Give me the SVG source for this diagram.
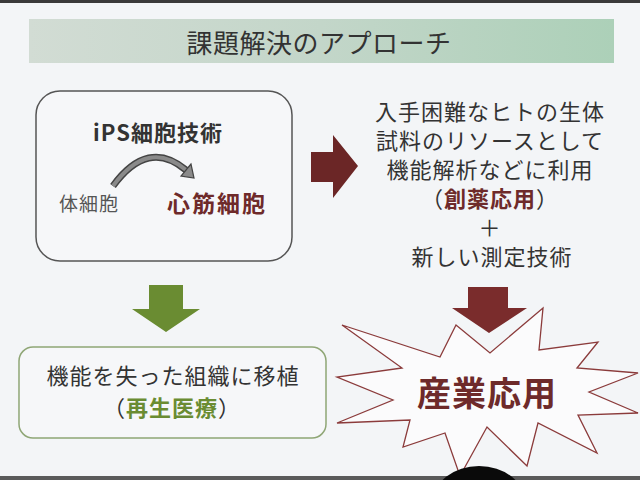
<svg xmlns="http://www.w3.org/2000/svg" width="640" height="480" viewBox="0 0 640 480">
<defs>
<linearGradient id="banner" x1="0" y1="0" x2="1" y2="0">
<stop offset="0" stop-color="#d2dcd4"/>
<stop offset="0.5" stop-color="#c3d6c9"/>
<stop offset="1" stop-color="#acd0b8"/>
</linearGradient>
<style>
text{font-family:"Noto Sans CJK JP","Noto Sans CJK SC",sans-serif;}
.t{fill:#333;font-size:22px;letter-spacing:1px;text-anchor:middle;}
.red{fill:#6e2a2a;font-weight:bold;}
.grn{fill:#6a8c32;font-weight:bold;}
</style>
</defs>
<rect x="0" y="0" width="640" height="480" fill="#f3f5f7"/>
<rect x="0" y="0" width="640" height="3" fill="#3a3a3a"/>
<rect x="0" y="476" width="640" height="4" fill="#5a5a5a"/>

<g id="title">
<rect x="29" y="19" width="585" height="44" fill="url(#banner)"/>
<text x="319" y="53" font-size="26" fill="#333" text-anchor="middle" letter-spacing="0.5">課題解決のアプローチ</text>
</g>

<g id="ips-box">
<rect x="36" y="91" width="256" height="170" rx="24" fill="#f6f7f9" stroke="#555" stroke-width="1.5"/>
<text x="158" y="141" font-size="22" font-weight="bold" fill="#333" text-anchor="middle" letter-spacing="1">iPS細胞技術</text>
<text x="89" y="211" font-size="19" fill="#555" text-anchor="middle" letter-spacing="1">体細胞</text>
<text x="217" y="212" font-size="23" text-anchor="middle" letter-spacing="2" class="red">心筋細胞</text>
<path d="M113,186 Q148,138 186,170" fill="none" stroke="#444" stroke-width="7"/>
<path d="M113,186 Q148,138 186,170" fill="none" stroke="#8a8a8a" stroke-width="4"/>
<polygon points="191,164 181,176 194,178" fill="#8a8a8a" stroke="#444" stroke-width="1.2"/>
</g>

<g id="resource-text">
<text class="t" x="490" y="120">入手困難なヒトの生体</text>
<text class="t" x="490" y="149">試料のリソースとして</text>
<text class="t" x="490" y="178">機能解析などに利用</text>
<text class="t" x="490" y="207">（<tspan class="red">創薬応用</tspan>）</text>
<text class="t" x="490" y="236" font-size="20">＋</text>
<text class="t" x="492" y="265" letter-spacing="2">新しい測定技術</text>
</g>

<g id="regen-box">
<rect x="19" y="347" width="307" height="91" rx="14" fill="#f6f7f9" stroke="#8fa676" stroke-width="1.5"/>
<text class="t" x="173" y="384" font-size="21" letter-spacing="2.5">機能を失った組織に移植</text>
<text class="t" x="172" y="416" font-size="21">（<tspan class="grn">再生医療</tspan>）</text>
</g>

<g id="industry">
<polygon points="342,325 440,357 456,325 490,353 543,308 539,350 598,342 577,368 638,373 589,392 638,413 578,415 597,453 538,423 527,466 487,427 460,476 445,433 403,447 410,420 337,423 393,400 337,377 402,368" fill="#fbfbfc" stroke="#8b3b3b" stroke-width="1.3" stroke-linejoin="miter"/>
<text x="487" y="406" font-size="34" text-anchor="middle" letter-spacing="1" class="red">産業応用</text>
</g>

<g id="connectors">
<polygon points="311,152 333,152 333,135 358,166 333,198 333,182 311,182" fill="#6b2626"/>
<polygon points="149,285 183,285 183,309 200,309 166,332 132,309 149,309" fill="#6a8c32"/>
<polygon points="468,287 508,287 508,308 527,308 489,333 452,308 468,308" fill="#7a2c2c"/>
</g>

<ellipse cx="479" cy="502" rx="46" ry="36" fill="#0a0a0a"/>
</svg>
